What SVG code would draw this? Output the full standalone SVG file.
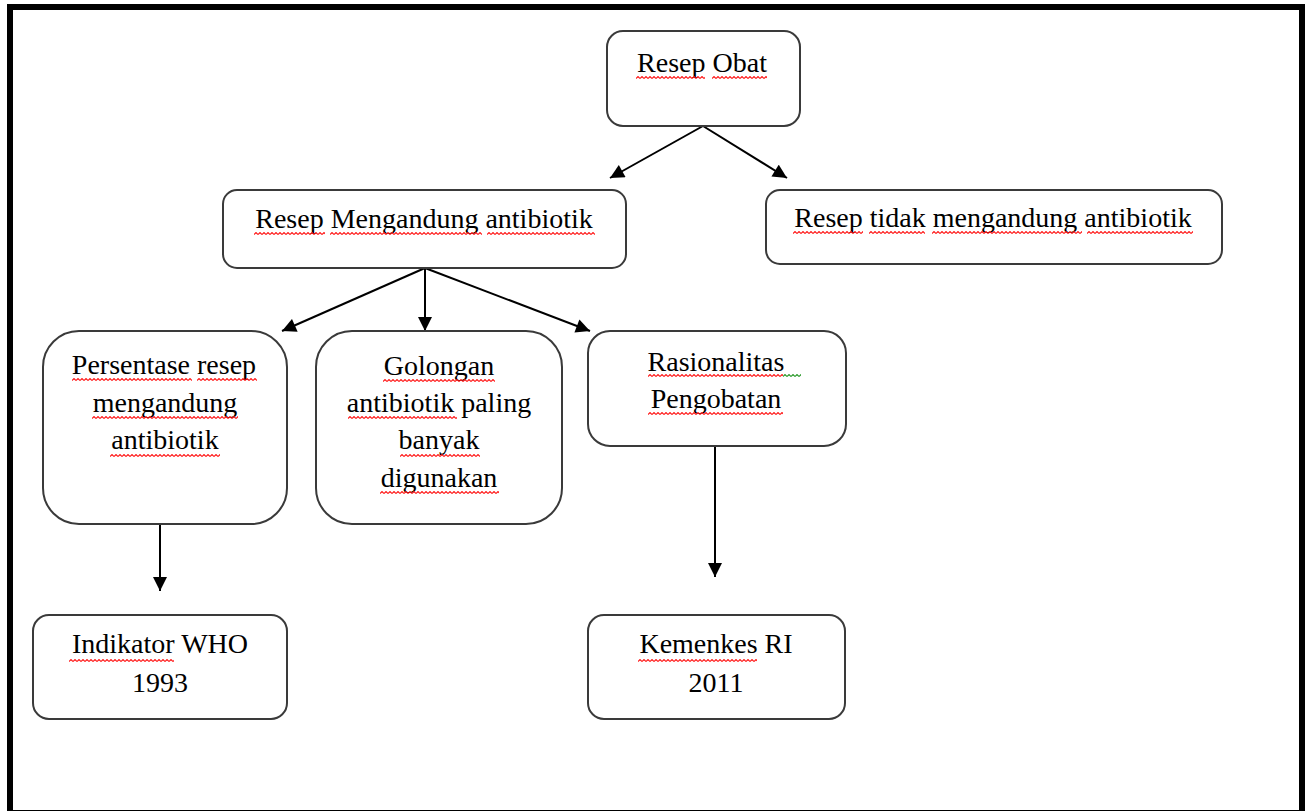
<svg xmlns="http://www.w3.org/2000/svg" width="1311" height="811" viewBox="0 0 1311 811">
<style>
.box{fill:#fff;stroke:#3a3a3a;stroke-width:2}
.t{font-family:"Liberation Serif","Times New Roman",serif;font-size:28px;fill:#000;text-anchor:middle}
.c{stroke:#000;stroke-width:2;fill:none}
.sq{fill:url(#wave)}
.sg{fill:url(#gwave)}
</style>
<defs>
<marker id="ah" viewBox="0 0 10 10" refX="10" refY="5" markerWidth="7.5" markerHeight="7" markerUnits="strokeWidth" orient="auto">
<path d="M0,0 L10,5 L0,10 z" fill="#000"/>
</marker>
<pattern id="wave" patternUnits="userSpaceOnUse" width="4" height="3">
<path d="M0,2.5 L2,0.5 L4,2.5" fill="none" stroke="#ff1a1a" stroke-width="1.1"/>
</pattern>
<pattern id="gwave" patternUnits="userSpaceOnUse" width="4" height="3">
<path d="M0,2.5 L2,0.5 L4,2.5" fill="none" stroke="#2a9a2a" stroke-width="1.1"/>
</pattern>
</defs>
<rect x="0" y="0" width="1311" height="811" fill="#fff"/>
<rect id="frame" x="10" y="7" width="1292" height="806" fill="none" stroke="#000" stroke-width="6"/>

<g id="connectors">
<line class="c" x1="703" y1="126" x2="610" y2="178" marker-end="url(#ah)"/>
<line class="c" x1="703" y1="126" x2="787" y2="178" marker-end="url(#ah)"/>
<line class="c" x1="425" y1="268" x2="282" y2="331" marker-end="url(#ah)"/>
<line class="c" x1="425" y1="268" x2="425" y2="331" marker-end="url(#ah)"/>
<line class="c" x1="425" y1="268" x2="590" y2="331" marker-end="url(#ah)"/>
<line class="c" x1="160" y1="524" x2="160" y2="591" marker-end="url(#ah)"/>
<line class="c" x1="715" y1="446" x2="715" y2="577" marker-end="url(#ah)"/>
</g>

<g id="resep-obat">
<rect class="box" x="607" y="31" width="193" height="95" rx="16"/>
<text class="t" x="702" y="72">Resep Obat</text>
<g transform="translate(636,76)"><rect class="sq" width="69" height="3"/></g>
<g transform="translate(712,76)"><rect class="sq" width="55" height="3"/></g>
</g>

<g id="resep-mengandung">
<rect class="box" x="223" y="190" width="403" height="78" rx="14"/>
<text class="t" x="424" y="228">Resep Mengandung antibiotik</text>
<g transform="translate(254,232)"><rect class="sq" width="71" height="3"/></g>
<g transform="translate(330,232)"><rect class="sq" width="152" height="3"/></g>
<g transform="translate(487,232)"><rect class="sq" width="108" height="3"/></g>
</g>

<g id="resep-tidak">
<rect class="box" x="766" y="190" width="456" height="74" rx="14"/>
<text class="t" x="993" y="227">Resep tidak mengandung antibiotik</text>
<g transform="translate(793,231)"><rect class="sq" width="70" height="3"/></g>
<g transform="translate(869,231)"><rect class="sq" width="56" height="3"/></g>
<g transform="translate(932,231)"><rect class="sq" width="150" height="3"/></g>
<g transform="translate(1087,231)"><rect class="sq" width="106" height="3"/></g>
</g>

<g id="persentase">
<rect class="box" x="43" y="331" width="244" height="193" rx="36"/>
<text class="t" x="164" y="374">Persentase resep</text>
<text class="t" x="165" y="412">mengandung</text>
<text class="t" x="165" y="449">antibiotik</text>
<g transform="translate(72,378)"><rect class="sq" width="120" height="3"/></g>
<g transform="translate(197,378)"><rect class="sq" width="60" height="3"/></g>
<g transform="translate(92,416)"><rect class="sq" width="146" height="3"/></g>
<g transform="translate(110,454)"><rect class="sq" width="110" height="3"/></g>
</g>

<g id="golongan">
<rect class="box" x="316" y="331" width="246" height="193" rx="36"/>
<text class="t" x="439" y="375">Golongan</text>
<text class="t" x="439" y="412">antibiotik paling</text>
<text class="t" x="439" y="449">banyak</text>
<text class="t" x="439" y="487">digunakan</text>
<g transform="translate(383,379)"><rect class="sq" width="112" height="3"/></g>
<g transform="translate(348,416)"><rect class="sq" width="109" height="3"/></g>
<g transform="translate(400,454)"><rect class="sq" width="80" height="3"/></g>
<g transform="translate(380,491)"><rect class="sq" width="119" height="3"/></g>
</g>

<g id="rasionalitas">
<rect class="box" x="588" y="331" width="258" height="115" rx="22"/>
<text class="t" x="716" y="371">Rasionalitas</text>
<text class="t" x="716" y="408">Pengobatan</text>
<g transform="translate(648,374)"><rect class="sq" width="135" height="3"/></g>
<g transform="translate(783,374)"><rect class="sg" width="18" height="3"/></g>
<g transform="translate(648,412)"><rect class="sq" width="135" height="3"/></g>
</g>

<g id="indikator-who">
<rect class="box" x="33" y="615" width="254" height="104" rx="16"/>
<text class="t" x="160" y="653">Indikator WHO</text>
<text class="t" x="160" y="692">1993</text>
<g transform="translate(69,659)"><rect class="sq" width="105" height="3"/></g>
</g>

<g id="kemenkes">
<rect class="box" x="588" y="615" width="257" height="104" rx="16"/>
<text class="t" x="716" y="653">Kemenkes RI</text>
<text class="t" x="716" y="692">2011</text>
<g transform="translate(638,659)"><rect class="sq" width="119" height="3"/></g>
</g>
</svg>
